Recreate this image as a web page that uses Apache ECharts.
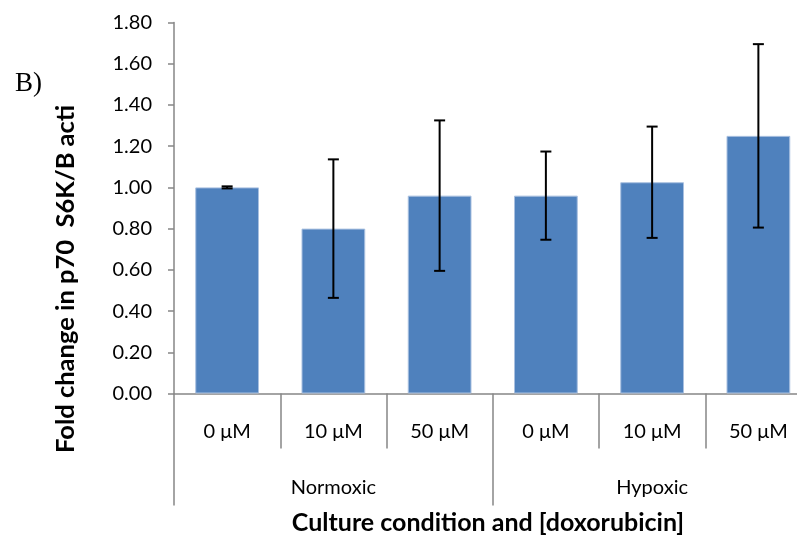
<!DOCTYPE html>
<html>
<head>
<meta charset="utf-8">
<script src="https://cdn.jsdelivr.net/npm/echarts@6/dist/echarts.min.js"></script>
<style>
  html, body { margin: 0; padding: 0; background: #ffffff; }
  #chart { width: 797px; height: 541px; }
</style>
</head>
<body>
<div id="chart"></div>
<script>
// Doxorubicin concentrations within each culture condition
const doseLabels = ['0 μM', '10 μM', '50 μM', '0 μM', '10 μM', '50 μM'];
const conditions = ['Normoxic', 'Hypoxic'];
// Mean fold change and error (±) per bar
const foldChange = [1.00, 0.80, 0.96, 0.96, 1.025, 1.25];
const errorValues = [0.005, 0.336, 0.365, 0.214, 0.27, 0.445];
const yTicks = { min: 0, max: 1.8, interval: 0.2 };

const axisGray = '#868686';
const font = 'Lato, "Open Sans", sans-serif';

const errorData = foldChange.map((v, i) => [i, v - errorValues[i], v + errorValues[i]]);

const chart = echarts.init(document.getElementById('chart'), null, { renderer: 'canvas' });

chart.setOption({
  animation: false,
  backgroundColor: '#ffffff',
  // the last category runs past the right edge of the canvas
  grid: {
    left: 174, width: 637.5, top: 22.5, height: 371,
    containLabel: false, outerBoundsMode: 'none'
  },
  xAxis: [
    {
      type: 'category',
      data: doseLabels,
      position: 'bottom',
      axisLine: { show: true, lineStyle: { color: axisGray, width: 1.5 } },
      axisTick: { show: true, interval: 0, length: 55, lineStyle: { color: axisGray, width: 1.5 } },
      axisLabel: { interval: 0, margin: 28, color: '#000', fontSize: 20, fontFamily: font },
      splitLine: { show: false }
    },
    {
      type: 'category',
      data: conditions,
      position: 'bottom',
      axisLine: { show: false },
      axisTick: { show: true, interval: 0, length: 112, lineStyle: { color: axisGray, width: 1.5 } },
      axisLabel: { interval: 0, margin: 84, color: '#000', fontSize: 20, fontFamily: font },
      splitLine: { show: false }
    }
  ],
  yAxis: {
    type: 'value',
    min: yTicks.min,
    max: yTicks.max,
    interval: yTicks.interval,
    axisLine: { show: true, lineStyle: { color: axisGray, width: 1.5 } },
    axisTick: { show: true, length: 6, lineStyle: { color: axisGray, width: 1.5 } },
    axisLabel: {
      margin: 22, color: '#000', fontSize: 20, fontFamily: font,
      formatter: v => v.toFixed(2)
    },
    splitLine: { show: false }
  },
  series: [
    {
      type: 'bar',
      xAxisIndex: 0,
      data: foldChange,
      barCategoryGap: '40%',
      itemStyle: { color: '#4f81bd', borderColor: '#a9c0e0', borderWidth: 1 },
      z: 2
    },
    {
      type: 'custom',
      xAxisIndex: 0,
      data: errorData,
      z: 5,
      renderItem: function (params, api) {
        const idx = api.value(0);
        const lo = api.coord([idx, api.value(1)]);
        const hi = api.coord([idx, api.value(2)]);
        const cap = 5.5;
        const style = { stroke: '#000', lineWidth: 2 };
        return {
          type: 'group',
          children: [
            { type: 'line', shape: { x1: hi[0], y1: hi[1], x2: lo[0], y2: lo[1] }, style: style },
            { type: 'line', shape: { x1: hi[0] - cap, y1: hi[1], x2: hi[0] + cap, y2: hi[1] }, style: style },
            { type: 'line', shape: { x1: lo[0] - cap, y1: lo[1], x2: lo[0] + cap, y2: lo[1] }, style: style }
          ]
        };
      }
    }
  ],
  graphic: [
    {
      type: 'text',
      x: 15, y: 70,
      style: { text: 'B)', font: '27px "Liberation Serif", "DejaVu Serif", serif', fill: '#000', textVerticalAlign: 'top' }
    },
    {
      type: 'text',
      x: 66, y: 453,
      rotation: Math.PI / 2,
      style: {
        text: 'Fold change in p70  S6K/B acti',
        font: 'bold 25.5px ' + font,
        fill: '#000',
        align: 'left',
        verticalAlign: 'middle'
      }
    },
    {
      type: 'text',
      x: 488, y: 523,
      style: {
        text: 'Culture condition and [doxorubicin]',
        font: 'bold 25px ' + font,
        fill: '#000',
        align: 'center',
        verticalAlign: 'middle'
      }
    }
  ]
});
</script>
</body>
</html>
